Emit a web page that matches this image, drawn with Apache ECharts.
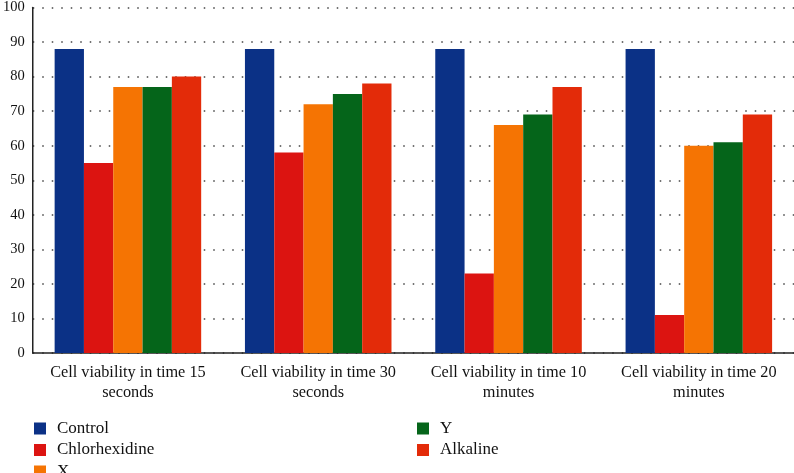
<!DOCTYPE html>
<html><head><meta charset="utf-8">
<script src="https://cdn.jsdelivr.net/npm/echarts@6/dist/echarts.min.js"></script>
<style>html,body{margin:0;padding:0;background:#fff}#c{width:794px;height:473px}</style>
</head><body><div id="c"></div>
<script>
const categories = ["Cell viability in time 15\nseconds","Cell viability in time 30\nseconds","Cell viability in time 10\nminutes","Cell viability in time 20\nminutes"];
const seriesNames = ["Control","Chlorhexidine","X","Y","Alkaline"];
const control = [88, 88, 88, 88];
const chlorhexidine = [55, 58, 23, 11];
const xVals = [77, 72, 66, 60];
const yVals = [77, 75, 69, 61];
const alkaline = [80, 78, 77, 69];
const yTicks = [0,10,20,30,40,50,60,70,80,90,100];
const colors = ["#0b3186","#dc1411","#f57403","#05651a","#e32b09"];
const values = [control, chlorhexidine, xVals, yVals, alkaline];
const font = "'Liberation Serif', 'DejaVu Serif', serif";
const chart = echarts.init(document.getElementById('c'));
const legendBase = {top:415,orient:'vertical',height:120,itemWidth:12,itemHeight:12,itemGap:4.5,icon:'rect',
  textStyle:{fontFamily:font,fontSize:17,color:'#111',padding:[0,0,0,6]}};
chart.setOption({
  animation:false,
  textStyle:{fontFamily:font},
  grid:{left:30,right:0,top:5,bottom:120},
  legend:[
    Object.assign({left:29,data:seriesNames.slice(0,3)},legendBase),
    Object.assign({left:412,data:seriesNames.slice(3)},legendBase)
  ],
  xAxis:{type:'category',data:categories,
    axisLine:{lineStyle:{color:'#222',width:1.5}},axisTick:{show:false},
    axisLabel:{fontFamily:font,fontSize:16.3,color:'#111',lineHeight:20,margin:10,interval:0}},
  yAxis:{type:'value',min:0,max:100,interval:10,
    axisLine:{show:true,lineStyle:{color:'#222',width:1.5}},axisTick:{show:false},
    axisLabel:{fontFamily:font,fontSize:14.5,color:'#111',margin:8,
      formatter:v=>yTicks.includes(v)?String(v):''},
    splitLine:{lineStyle:{color:'#444',width:1.5,type:[1.5,8]}}},
  series: seriesNames.map((n,i)=>({name:n,type:'bar',data:values[i],
    barGap:'0%',barCategoryGap:'23%',
    itemStyle:{color:colors[i]}}))
});
</script></body></html>
